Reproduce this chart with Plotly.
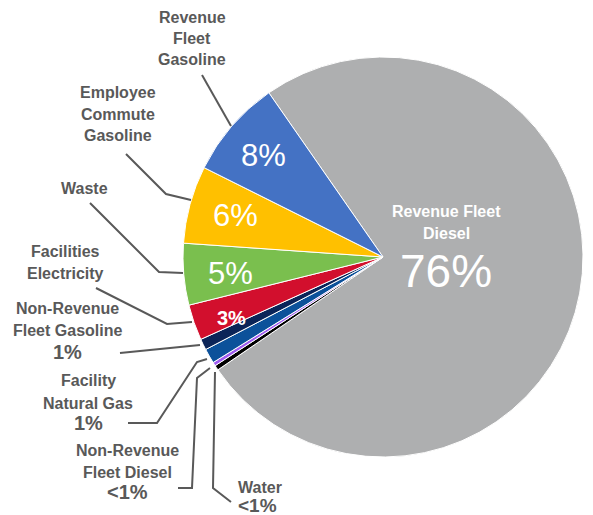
import plotly.graph_objects as go

# Data (clockwise from the top-left edge of the large slice)
labels = ["Revenue Fleet Diesel", "Water", "Non-Revenue Fleet Diesel",
          "Facility Natural Gas", "Non-Revenue Fleet Gasoline",
          "Facilities Electricity", "Waste", "Employee Commute Gasoline",
          "Revenue Fleet Gasoline"]
values = [75.5, 0.4, 0.3, 1.2, 0.9, 2.9, 5.0, 6.3, 8.0]
pct_text = ["76%", "<1%", "<1%", "1%", "1%", "3%", "5%", "6%", "8%"]
colors = ["#AEAFB0", "#000000", "#A05CF0", "#0C519A", "#0B2458",
          "#D20F2D", "#7ABF4E", "#FFC000", "#4472C4"]

W, H = 593, 515
cx, cy, R = 383, 257, 200

fig = go.Figure(go.Pie(
    labels=labels, values=values, sort=False, direction="clockwise",
    rotation=-34.8, textinfo="none", hoverinfo="label+percent",
    marker=dict(colors=colors, line=dict(color="white", width=1)),
    domain=dict(x=[(cx - R) / W, (cx + R) / W],
                y=[(H - cy - R) / H, (H - cy + R) / H]),
    showlegend=False,
))

GRAY = "#595959"
FONT = "Liberation Sans"
ann = []

def add(x, y, text, size, color=GRAY, bold=True, xanchor="center"):
    t = f"<b>{text}</b>" if bold else text
    ann.append(dict(x=x / W, y=1 - y / H, xref="paper", yref="paper",
                    text=t, showarrow=False, xanchor=xanchor, yanchor="middle",
                    font=dict(family=FONT, size=size, color=color)))

# Outside labels
add(192, 17, "Revenue", 16); add(192, 38, "Fleet", 16); add(192, 60, "Gasoline", 16)
add(118, 93, "Employee", 16); add(118, 114, "Commute", 16); add(118, 136, "Gasoline", 16)
add(84, 188, "Waste", 16)
add(65, 251, "Facilities", 16); add(65, 273, "Electricity", 16)
add(67, 308, "Non-Revenue", 16); add(67, 330, "Fleet Gasoline", 16); add(67, 352, pct_text[4], 20)
add(88, 380, "Facility", 16); add(88, 403, "Natural Gas", 16); add(88, 423, pct_text[3], 20)
add(127, 450, "Non-Revenue", 16); add(127, 472, "Fleet Diesel", 16); add(127, 492, pct_text[2], 20)
add(236, 487, "Water", 16, xanchor="left"); add(236, 505, pct_text[1], 19, xanchor="left")

# Inside labels
add(263, 155, pct_text[8], 31, color="white", bold=False)
add(235, 215, pct_text[7], 31, color="white", bold=False)
add(230, 273, pct_text[6], 31, color="white", bold=False)
add(231, 318, pct_text[5], 20, color="white", bold=True)
add(446, 211, "Revenue Fleet", 16, color="white")
add(446, 233, "Diesel", 16, color="white")
add(446, 271, pct_text[0], 46, color="white", bold=False)

# Leader lines
paths = [
    [(202, 75), (231, 126)],
    [(126, 154), (166, 194), (191, 200)],
    [(90, 203), (159, 272), (183, 273)],
    [(96, 288), (167, 324), (192, 322)],
    [(120, 353), (200, 345)],
    [(128, 423), (157, 423), (197, 362), (207, 359)],
    [(178, 488), (192, 488), (197, 378), (210, 368)],
    [(215, 372), (213, 488), (231, 502)],
]
shapes = []
for p in paths:
    d = "M " + " L ".join(f"{x / W:.5f},{1 - y / H:.5f}" for x, y in p)
    shapes.append(dict(type="path", path=d, xref="paper", yref="paper",
                       line=dict(color=GRAY, width=2)))

fig.update_layout(width=W, height=H, margin=dict(l=0, r=0, t=0, b=0),
                  paper_bgcolor="white", plot_bgcolor="white",
                  annotations=ann, shapes=shapes)
fig.write_html("out.html", config={"displayModeBar": False},
               post_script="document.body.style.margin='0';document.body.style.overflow='hidden';")
